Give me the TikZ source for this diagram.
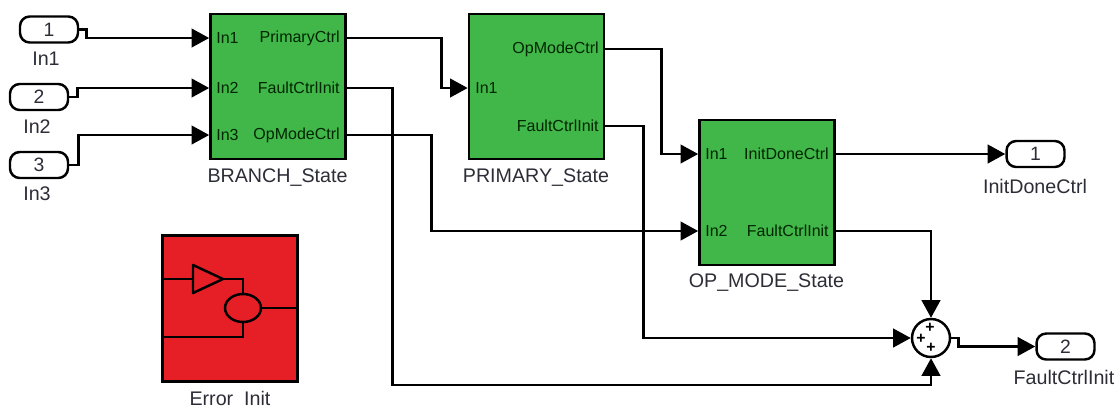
\documentclass[tikz,border=0pt]{standalone}
\usepackage{fontspec}
\setmainfont{Liberation Sans}
\usetikzlibrary{arrows.meta,shapes.geometric}
\definecolor{blockgreen}{RGB}{65,182,73}
\definecolor{blockred}{RGB}{230,31,38}
\definecolor{labelgray}{RGB}{45,45,55}
\tikzset{
    wire/.style={line width=1.5pt, -{Triangle[length=10pt,width=10.5pt]}},
    thinwire/.style={line width=1.4pt},
    statebox/.style={draw=black, fill=blockgreen, line width=1.5pt, minimum width=2.7cm, minimum height=2.9cm, inner sep=0pt},
    portpill/.style={draw=black, fill=white, line width=1.4pt, rounded corners=5.5pt, minimum width=1.16cm, minimum height=0.52cm, inner sep=0pt, font=\fontsize{11}{11}\selectfont, text=labelgray},
    inname/.style={anchor=west, inner sep=0pt, font=\fontsize{9.1}{9}\selectfont, text=black!85!green},
    outname/.style={anchor=east, inner sep=0pt, font=\fontsize{9.1}{9}\selectfont, text=black!85!green},
    caption/.style={inner sep=0pt, font=\fontsize{11.2}{11}\selectfont, text=labelgray},
    plussign/.style={inner sep=0pt, font=\fontsize{9}{9}\selectfont\bfseries}
}
\begin{document}
\begin{tikzpicture}[x=0.02cm, y=-0.02cm]
    \useasboundingbox (0,0) rectangle (1118,407);
    % state blocks
    \node[statebox] (branch) at (278,86.5) {};
    \node[statebox] (primary) at (536.5,86.5) {};
    \node[statebox] (opmode) at (767,192.5) {};
    \node[caption] at (277.5,178) (branchname) {BRANCH\_State};
    \node[caption] at (536,178) (primaryname) {PRIMARY\_State};
    \node[caption] at (766.5,283) (opmodename) {OP\_MODE\_State};
    % ports of the blocks
    \foreach \name/\y/\txt in {In1/38/In1,In2/88/In2,In3/135/In3}
        \node[inname] (branch\name) at (216,\y) {\txt};
    \node[outname] (branchPrimary) at (340,38) {PrimaryCtrl};
    \node[outname] (branchFault) at (340,88) {FaultCtrlInit};
    \node[outname] (branchOp) at (340,135) {OpModeCtrl};
    \node[inname] (primaryIn) at (475,88) {In1};
    \node[outname] (primaryOp) at (599,49) {OpModeCtrl};
    \node[outname] (primaryFault) at (599,126) {FaultCtrlInit};
    \node[inname] (opmodeIn1) at (705,154) {In1};
    \node[inname] (opmodeIn2) at (705,231) {In2};
    \node[outname] (opmodeDone) at (829,154) {InitDoneCtrl};
    \node[outname] (opmodeFault) at (829,231) {FaultCtrlInit};
    % inports and outports
    \node[portpill] (inA) at (49,29.5) {1};
    \node[portpill] (inB) at (39,97) {2};
    \node[portpill] (inC) at (39,165) {3};
    \node[caption] (inAname) at (46,59) {In1};
    \node[caption] (inBname) at (37,127) {In2};
    \node[caption] (inCname) at (37,194) {In3};
    \node[portpill] (outA) at (1035.5,154) {1};
    \node[portpill] (outB) at (1065.5,346.5) {2};
    \node[caption] (outAname) at (1035,186) {InitDoneCtrl};
    \node[caption] (outBname) at (1064,377) {FaultCtrlInit};
    % sum block
    \node[draw=black, fill=white, circle, line width=1.4pt, minimum size=0.76cm, inner sep=0pt] (sum) at (931,338) {};
    \node[plussign] (plusA) at (930,328) {+};
    \node[plussign] (plusB) at (921,339) {+};
    \node[plussign] (plusC) at (931,348) {+};
    \coordinate (sumTurn) at (931,385);
    % wires
    \draw[wire] (inA.east) -- ++(7,0) |- (branchIn1.west -| branch.west);
    \draw[wire] (inB.east) -- ++(8,0) |- (branchIn2.west -| branch.west);
    \draw[wire] (inC.east) -- ++(9,0) |- (branchIn3.west -| branch.west);
    \draw[wire] (branchPrimary.east -| branch.east) -- ++(95,0) |- (primaryIn.west -| primary.west);
    \draw[wire] (branchFault.east -| branch.east) -- ++(45.5,0) |- (sumTurn) -- (sum.south);
    \draw[wire] (branchOp.east -| branch.east) -- ++(84.5,0) |- (opmodeIn2.west -| opmode.west);
    \draw[wire] (primaryOp.east -| primary.east) -- ++(56,0) |- (opmodeIn1.west -| opmode.west);
    \draw[wire] (primaryFault.east -| primary.east) -- ++(38,0) |- (sum.west);
    \draw[wire] (opmodeDone.east -| opmode.east) -- (outA.west);
    \draw[wire] (opmodeFault.east -| opmode.east) -| (sum.north);
    \draw[wire] (sum.east) -- ++(7,0) |- (outB.west);
    % error block
    \node[draw=black, fill=blockred, line width=1.5pt, minimum width=2.7cm, minimum height=2.92cm, inner sep=0pt] (errorbox) at (230,308.5) {};
    \node[caption] (errorname) at (230,398) {Error\ \ Init};
    \coordinate (gainIn) at (193,279);
    \coordinate (gainTip) at (223,279);
    \coordinate (errorLow) at (163,337);
    \node[draw=black, ellipse, line width=1.4pt, minimum width=0.72cm, minimum height=0.56cm, inner sep=0pt] (relop) at (243,308) {};
    \draw[thinwire, line join=round] (193,265) -- (gainTip) -- (193,293) -- cycle;
    \draw[thinwire] (errorbox.west |- gainIn) -- (gainIn);
    \draw[thinwire] (gainTip) -| (relop.north);
    \draw[thinwire] (relop.east) -- (relop.east -| errorbox.east);
    \draw[thinwire] (relop.south) |- (errorLow);
\end{tikzpicture}
\end{document}
